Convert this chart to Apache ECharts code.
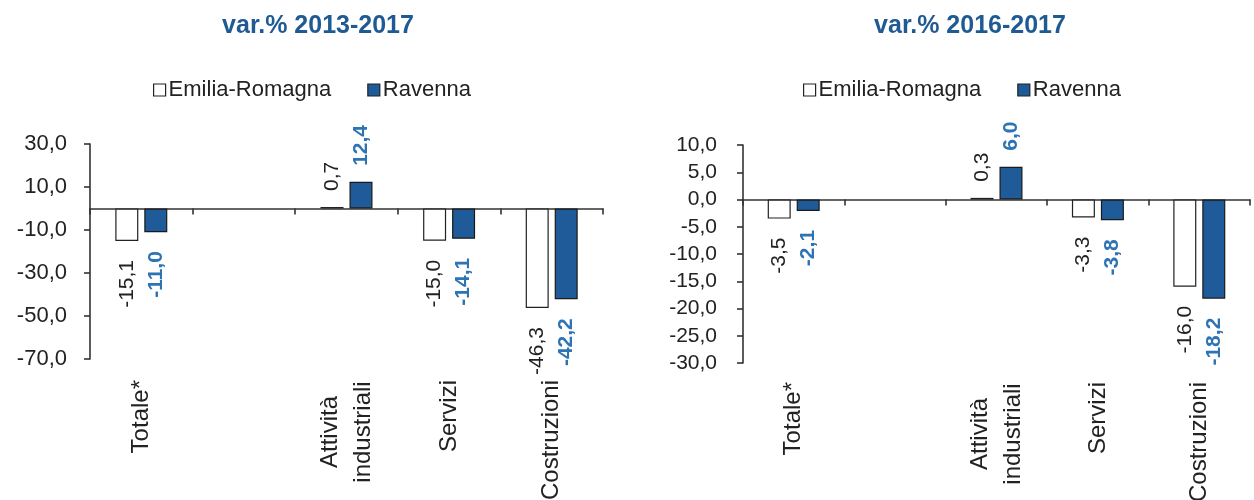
<!DOCTYPE html>
<html>
<head>
<meta charset="utf-8">
<title>var.% Emilia-Romagna / Ravenna</title>
<script src="https://cdn.jsdelivr.net/npm/echarts@6/dist/echarts.min.js"></script>
<style>
  html, body { margin: 0; padding: 0; background: #ffffff; }
  #chart { width: 1254px; height: 500px; }
</style>
</head>
<body>
<div id="chart"></div>
<script>
// Sectors (the empty slot keeps the gap after "Totale*")
const categories = ['Totale*', '', 'Attività\nindustriali', 'Servizi', 'Costruzioni'];
const seriesNames = ['Emilia-Romagna', 'Ravenna'];
const titles = ['var.% 2013-2017', 'var.% 2016-2017'];

// var.% 2013-2017
const erLong = [-15.1, null, 0.7, -15.0, -46.3];
const raLong = [-11.0, null, 12.4, -14.1, -42.2];

// var.% 2016-2017
const erShort = [-3.5, null, 0.3, -3.3, -16.0];
const raShort = [-2.1, null, 6.0, -3.8, -18.2];

// Value axis ranges
const axisLong = { min: -70, max: 30, interval: 20 };
const axisShort = { min: -30, max: 10, interval: 5 };

const FONT = "'Liberation Sans', Arial, sans-serif";
const INK = '#222222';
const BAR_BLUE = '#1f5b98';
const LABEL_BLUE = '#2e73b4';
const TITLE_BLUE = '#1f5a92';

const fmt = v => v.toFixed(1).replace('.', ',');

function barData(values, labelColor, bold) {
  return values.map(v => {
    if (v === null) return null;
    const neg = v < 0;
    return {
      value: v,
      label: {
        show: true,
        position: neg ? 'bottom' : 'top',
        rotate: 90,
        align: neg ? 'right' : 'left',
        verticalAlign: 'middle',
        distance: neg ? 19 : 16,
        color: labelColor,
        fontWeight: bold ? 'bold' : 'normal',
        fontSize: 21,
        fontFamily: FONT,
        formatter: p => fmt(p.value)
      }
    };
  });
}

function catLabel(v) {
  if (v.indexOf('\n') < 0) return v;
  return v.split('\n').map(s => '{c|' + s + '}').join('\n');
}

function panel(idx, grid, range, er, ra, labelSize, yMargin, labelMargin) {
  const zeroAxis = {
    type: 'category',
    gridIndex: idx,
    data: categories,
    axisLine: { show: true, onZero: true, lineStyle: { color: '#333', width: 1.6 } },
    axisTick: { show: true, alignWithLabel: false, length: 6, lineStyle: { color: '#333', width: 1.6 } },
    axisLabel: { show: false },
    splitLine: { show: false }
  };
  const labelAxis = {
    type: 'category',
    gridIndex: idx,
    position: 'bottom',
    data: categories,
    axisLine: { show: false, onZero: false },
    axisTick: { show: false },
    splitLine: { show: false },
    axisLabel: {
      show: true,
      interval: 0,
      rotate: 90,
      margin: labelMargin,
      color: INK,
      fontSize: 24,
      fontFamily: FONT,
      lineHeight: 33,
      formatter: catLabel,
      rich: { c: { width: 104, align: 'center', fontSize: 24, fontFamily: FONT, color: INK, lineHeight: 33 } }
    }
  };
  const yAxis = {
    type: 'value',
    gridIndex: idx,
    min: range.min,
    max: range.max,
    interval: range.interval,
    axisLine: { show: true, lineStyle: { color: '#333', width: 1.6 } },
    axisTick: { show: true, length: 6, lineStyle: { color: '#333', width: 1.6 } },
    splitLine: { show: false },
    axisLabel: { color: INK, fontSize: labelSize, fontFamily: FONT, margin: yMargin, formatter: fmt }
  };
  const xi = idx * 2;
  const series = [
    {
      name: seriesNames[0], type: 'bar', xAxisIndex: xi, yAxisIndex: idx,
      barWidth: 23, barGap: '26%',
      itemStyle: { color: '#ffffff', borderColor: '#222', borderWidth: 1.2 },
      data: barData(er, INK, false)
    },
    {
      name: seriesNames[1], type: 'bar', xAxisIndex: xi, yAxisIndex: idx,
      barWidth: 23, barGap: '26%',
      itemStyle: { color: BAR_BLUE, borderColor: '#1a1a1a', borderWidth: 1.2 },
      data: barData(ra, LABEL_BLUE, true)
    }
  ];
  return { grid: Object.assign({ outerBoundsMode: 'none', containLabel: false }, grid), xAxes: [zeroAxis, labelAxis], yAxis, series };
}

const left = panel(0, { left: 90, top: 144, width: 513, height: 215 }, axisLong, erLong, raLong, 22, 23, 21);
const right = panel(1, { left: 743, top: 145, width: 507, height: 218 }, axisShort, erShort, raShort, 21, 26, 19);

function legend(x) {
  return {
    left: x, top: 74,
    data: seriesNames,
    icon: 'rect',
    itemWidth: 12, itemHeight: 12, itemGap: 36,
    selectedMode: false,
    itemStyle: { borderColor: '#222', borderWidth: 1.2 },
    textStyle: { color: INK, fontSize: 22, fontFamily: FONT, padding: [0, 0, 0, -2] }
  };
}

const option = {
  backgroundColor: '#ffffff',
  animation: false,
  title: [
    { text: titles[0], left: 313, top: 9, textAlign: 'center',
      textStyle: { color: TITLE_BLUE, fontSize: 25, fontWeight: 'bold', fontFamily: FONT } },
    { text: titles[1], left: 965, top: 9, textAlign: 'center',
      textStyle: { color: TITLE_BLUE, fontSize: 25, fontWeight: 'bold', fontFamily: FONT } }
  ],
  legend: [legend(148), legend(798)],
  grid: [left.grid, right.grid],
  xAxis: [...left.xAxes, ...right.xAxes],
  yAxis: [left.yAxis, right.yAxis],
  series: [...left.series, ...right.series]
};

const chart = echarts.init(document.getElementById('chart'), null, { renderer: 'canvas' });
chart.setOption(option);
</script>
</body>
</html>
